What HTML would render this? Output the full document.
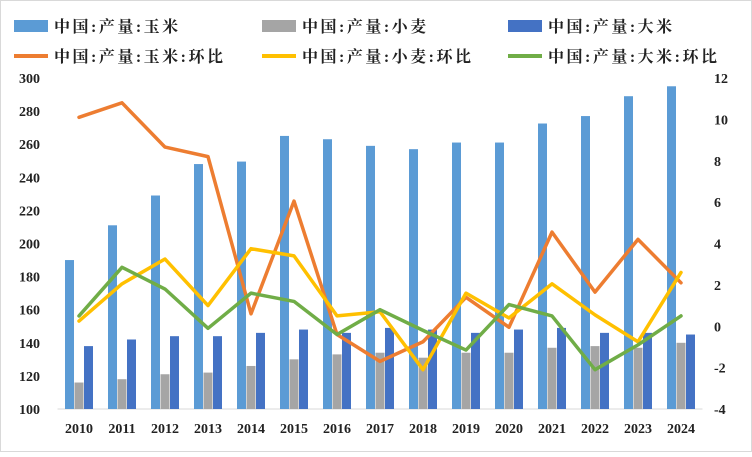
<!DOCTYPE html>
<html><head><meta charset="utf-8"><style>
body{margin:0;background:#fff}
svg text{font-family:"Liberation Serif","Noto Serif CJK SC",serif;font-weight:bold;fill:#222}
</style></head><body>
<svg width="752" height="452">
<rect x="0.5" y="0.5" width="751" height="451" fill="#fff" stroke="#d9d9d9"/>
<g id="legend"></g>
<g id="plot"></g>
</svg>
<script>
const years=["2010","2011","2012","2013","2014","2015","2016","2017","2018","2019","2020","2021","2022","2023","2024"];
const corn=[190,211,229,248,249.5,265,263,259,257,261,261,272.5,277,289,295];
const wheat=[116,118,121,122,126,130,133,134,131,134,134,137,138,137,140];
const rice=[138,142,144,144,146,148,146,149,148,146,148,149,146,146,145];
const cornYoy=[10.1,10.8,8.66,8.2,0.6,6.05,-0.4,-1.7,-0.75,1.4,-0.05,4.55,1.65,4.2,2.1];
const wheatYoy=[0.25,2.05,3.25,1.0,3.75,3.4,0.5,0.7,-2.1,1.6,0.4,2.05,0.55,-0.75,2.6];
const riceYoy=[0.5,2.85,1.8,-0.1,1.6,1.2,-0.4,0.8,-0.2,-1.15,1.05,0.5,-2.1,-0.9,0.5];
const leftTicks=[100,120,140,160,180,200,220,240,260,280,300];
const rightTicks=[-4,-2,0,2,4,6,8,10,12];
const NS="http://www.w3.org/2000/svg";
const yTop=78,bot=409,x0=57.5,cw=43;
const yL=v=>bot-(v-100)/200*(bot-yTop);
const yR=v=>bot-(v+4)/16*(bot-yTop);
const xC=i=>x0+cw*(i+0.5);
function mk(tag,attrs,parent,txt){const e=document.createElementNS(NS,tag);for(const k in attrs)e.setAttribute(k,attrs[k]);if(txt!==undefined)e.textContent=txt;parent.appendChild(e);return e;}
const plot=document.getElementById('plot'),leg=document.getElementById('legend');
let a=mk('line',{x1:x0,x2:x0+cw*15,y1:bot,y2:bot,stroke:'#d9d9d9'},plot);


leftTicks.forEach(t=>{const e=mk('text',{x:40,y:yL(t)+5,'text-anchor':'end','font-size':14},plot,t);

});
rightTicks.forEach(t=>{const e=mk('text',{x:714,y:yR(t)+5,'text-anchor':'start','font-size':14},plot,t);

});
years.forEach((y,i)=>{const e=mk('text',{x:xC(i),y:433,'text-anchor':'middle','font-size':14},plot,y);

});
const bw=9;
[[corn,'#5b9bd5',-14],[wheat,'#a5a5a5',-4.5],[rice,'#4472c4',5]].forEach(([arr,col,off])=>{
arr.forEach((v,i)=>{const r=mk('rect',{x:xC(i)+off,y:yL(v),width:bw,height:bot-yL(v),fill:col},plot);

});});
[[cornYoy,'#ed7d31'],[wheatYoy,'#ffc000'],[riceYoy,'#70ad47']].forEach(([arr,col])=>{
const p=mk('polyline',{points:arr.map((v,i)=>xC(i)+','+yR(v)).join(' '),fill:'none',stroke:col,'stroke-width':3.5,'stroke-linejoin':'round','stroke-linecap':'round'},plot);

});
const items=[['中国:产量:玉米','#5b9bd5','bar',14,28],['中国:产量:小麦','#a5a5a5','bar',262,28],['中国:产量:大米','#4472c4','bar',508,28],
['中国:产量:玉米:环比','#ed7d31','line',14,58],['中国:产量:小麦:环比','#ffc000','line',262,58],['中国:产量:大米:环比','#70ad47','line',508,58]];
items.forEach(([t,c,k,x,y])=>{
if(k==='bar')mk('rect',{x:x,y:y-8,width:34,height:12,fill:c},leg);
else mk('line',{x1:x,x2:x+34,y1:y-2,y2:y-2,stroke:c,'stroke-width':4},leg);
const e=mk('text',{x:x+40,y:y+4,'font-size':16,'letter-spacing':'2.5'},leg,t);

});
</script>
</body></html>
